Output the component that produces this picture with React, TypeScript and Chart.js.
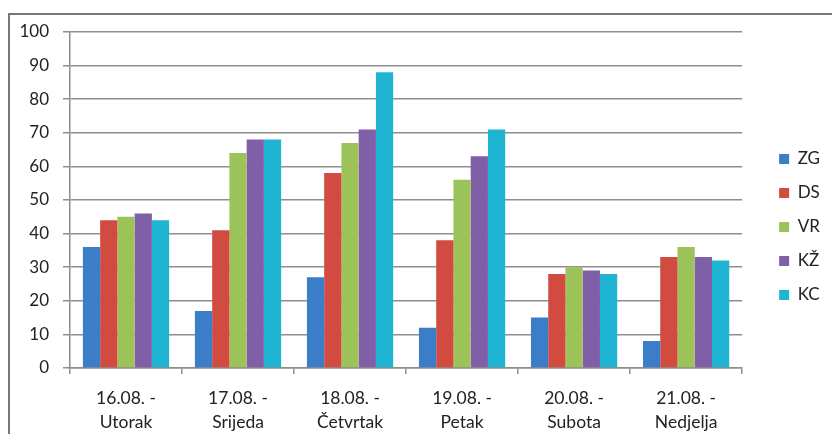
import React, { useEffect, useRef } from "react";
import { Chart, registerables } from "chart.js";

Chart.register(...registerables);

const categories: string[][] = [
  ["16.08. -", "Utorak"],
  ["17.08. -", "Srijeda"],
  ["18.08. -", "Četvrtak"],
  ["19.08. -", "Petak"],
  ["20.08. -", "Subota"],
  ["21.08. -", "Nedjelja"],
];

const seriesNames = ["ZG", "DS", "VR", "KŽ", "KC"];
const ZG = [36, 17, 27, 12, 15, 8];
const DS = [44, 41, 58, 38, 28, 33];
const VR = [45, 64, 67, 56, 30, 36];
const KZ = [46, 68, 71, 63, 29, 33];
const KC = [44, 68, 88, 71, 28, 32];
const seriesValues = [ZG, DS, VR, KZ, KC];
const seriesColors = ["#3b7dc9", "#d24b40", "#9cc25a", "#7f60a8", "#1fb4d2"];

const yTicks = { min: 0, max: 100, step: 10 };

const FONT = "Lato, 'Open Sans', sans-serif";
const TEXT = "#222222";
const GRID = "#8e8e8e";

export default function App() {
  const ref = useRef<HTMLCanvasElement | null>(null);

  useEffect(() => {
    if (!ref.current) return;
    const chart = new Chart(ref.current, {
      type: "bar",
      data: {
        labels: categories,
        datasets: seriesNames.map((name, i) => ({
          label: name,
          data: seriesValues[i],
          backgroundColor: seriesColors[i],
          borderWidth: 0,
          barPercentage: 1,
          categoryPercentage: 0.77,
        })),
      },
      options: {
        responsive: false,
        animation: false,
        devicePixelRatio: 1,
        layout: { padding: { top: 20, left: 0, right: 2, bottom: 0 } },
        plugins: {
          tooltip: { enabled: false },
          title: {
            display: true,
            text: " ",
            font: { size: 12, lineHeight: 1 },
            padding: 0,
          },
          legend: {
            position: "right",
            labels: {
              font: { family: FONT, size: 17 },
              color: TEXT,
              boxWidth: 10,
              boxHeight: 10,
              padding: 17,
            },
          },
        },
        scales: {
          x: {
            grid: {
              drawOnChartArea: false,
              drawTicks: true,
              tickLength: 6,
              color: GRID,
              lineWidth: 1.5,
            },
            border: { display: true, color: GRID, width: 1.5 },
            ticks: {
              font: { family: FONT, size: 17.5, lineHeight: 1.4 },
              color: TEXT,
              padding: 12,
              maxRotation: 0,
              autoSkip: false,
            },
            afterFit: (s: any) => {
              s.height = 66;
            },
          },
          y: {
            min: yTicks.min,
            max: yTicks.max,
            ticks: {
              stepSize: yTicks.step,
              font: { family: FONT, size: 17 },
              color: TEXT,
              padding: 14,
            },
            grid: { color: GRID, lineWidth: 1.5, tickLength: 7 },
            border: { display: true, color: GRID, width: 1.5 },
            afterFit: (s: any) => {
              s.width = 70;
            },
          },
          y2: {
            type: "linear",
            position: "right",
            display: true,
            grid: { display: false },
            ticks: { display: false },
            border: { display: false },
            afterFit: (s: any) => {
              s.width = 20;
            },
          },
        },
      },
    });
    return () => chart.destroy();
  }, []);

  return (
    <div>
      <div
        style={{
          position: "absolute",
          left: 8,
          top: 13,
          right: 0,
          bottom: 0,
          borderTop: "2px solid #777777",
          borderLeft: "2px solid #777777",
        }}
      />
      <canvas
        ref={ref}
        width={832}
        height={434}
        style={{ position: "absolute", left: 0, top: 0, width: 832, height: 434 }}
      />
    </div>
  );
}
